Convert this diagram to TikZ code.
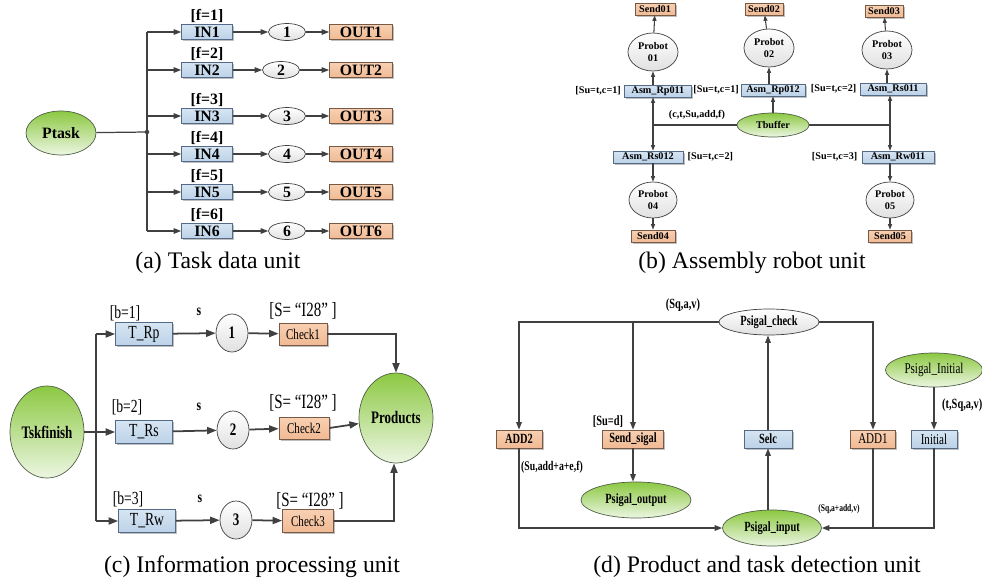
\documentclass[tikz,border=0pt]{standalone}
\usepackage{fontspec}
\setmainfont{Liberation Serif}
\newfontfamily\narrowfont[FakeStretch=0.74]{Liberation Serif}
\usetikzlibrary{shapes.geometric,arrows.meta,shadows}

\definecolor{linegray}{RGB}{64,64,64}
\definecolor{bluetop}{RGB}{214,229,242}
\definecolor{bluebot}{RGB}{188,210,232}
\definecolor{blueline}{RGB}{84,106,134}
\definecolor{orangetop}{RGB}{248,208,178}
\definecolor{orangebot}{RGB}{240,186,148}
\definecolor{orangeline}{RGB}{118,90,70}
\definecolor{greentop}{RGB}{140,200,66}
\definecolor{greenbot}{RGB}{236,246,226}
\definecolor{greenline}{RGB}{80,96,70}

\tikzset{
  boxshadow/.style={drop shadow={shadow xshift=0.35mm,shadow yshift=-0.35mm,fill=black,opacity=0.25}},
  inbox/.style={rectangle,draw=blueline,top color=bluetop,bottom color=bluebot,inner sep=0pt,boxshadow},
  outbox/.style={rectangle,draw=orangeline,top color=orangetop,bottom color=orangebot,inner sep=0pt,boxshadow},
  greenell/.style={ellipse,draw=greenline,top color=greentop,bottom color=greenbot,inner sep=0pt},
  whiteell/.style={ellipse,draw=linegray,top color=white,bottom color=black!12,inner sep=0pt},
  conn/.style={draw=linegray,line width=0.7pt,-{Triangle[length=1.5mm,width=1.1mm]}},
  thinconn/.style={draw=linegray,line width=0.6pt,-{Triangle[length=1.1mm,width=0.8mm]}},
  thickconn/.style={draw=linegray,line width=1pt,-{Triangle[length=1.9mm,width=1.4mm]}},
  wire/.style={draw=linegray,line width=0.7pt},
  caption/.style={font=\fontsize{13.5}{15}\selectfont},
  fa/.style={font=\fontsize{9}{10}\selectfont\bfseries},
  fb/.style={font=\fontsize{5.8}{6.6}\selectfont\bfseries,align=center},
  fc/.style={font=\narrowfont\fontsize{10}{11}\selectfont\bfseries},
  fcr/.style={font=\narrowfont\fontsize{10.5}{11}\selectfont},
  fd/.style={font=\narrowfont\fontsize{8}{9}\selectfont\bfseries},
  fdr/.style={font=\narrowfont\fontsize{8.5}{9}\selectfont}
}

\begin{document}
\begin{tikzpicture}[x=0.2mm,y=-0.2mm]
\useasboundingbox (0,0) rectangle (982,585);

% (a) task data unit
\node[greenell,fa,minimum width=14mm,minimum height=8.8mm] (ptask) at (61,133) {Ptask};
\coordinate (jA) at (147,132);
\foreach \n/\cx in {1/287,2/281,3/287,4/287,5/287,6/287} {
  \pgfmathsetmacro{\yy}{\n==1 ? 32 : (\n==2 ? 70 : (\n==3 ? 116 : (\n==4 ? 154 : (\n==5 ? 192 : 231))))}
  \node[inbox,fa,minimum width=10.2mm,minimum height=3mm] (in\n) at (207,\yy) {IN\n};
  \node[fa,anchor=south,inner sep=0.5pt] (fl\n) at (in\n.north) {[f=\n]};
  \node[whiteell,fa,minimum width=7.4mm,minimum height=3.4mm] (cn\n) at (\cx,\yy) {\n};
  \node[outbox,fa,minimum width=12.6mm,minimum height=3mm] (out\n) at (361,\yy) {OUT\n};
  \draw[conn] (jA |- in\n) -- (in\n);
  \draw[conn] (in\n) -- (cn\n);
  \draw[conn] (cn\n) -- (out\n);
}
\draw[wire] (jA |- in1) -- (jA |- in6);
\draw[wire] (ptask) -- (jA);
\fill[linegray] (jA) circle[radius=0.45mm];
\node[caption] (capa) at (218,263) {(a) Task data unit};

% (b) assembly robot unit
\node[outbox,fb,minimum width=8mm,minimum height=2.4mm] (send01) at (655,9) {Send01};
\node[outbox,fb,minimum width=7.6mm,minimum height=2.4mm] (send02) at (764,9) {Send02};
\node[outbox,fb,minimum width=7.6mm,minimum height=2.4mm] (send03) at (884,11) {Send03};
\node[whiteell,fb,minimum width=10mm,minimum height=7.6mm] (probot01) at (653,52) {Probot\\01};
\node[whiteell,fb,minimum width=10mm,minimum height=7.6mm] (probot02) at (769,48) {Probot\\02};
\node[whiteell,fb,minimum width=10mm,minimum height=7.6mm] (probot03) at (887,50) {Probot\\03};
\node[inbox,fb,minimum width=13.4mm,minimum height=2.4mm] (asm01) at (658,91) {Asm\_Rp011};
\node[inbox,fb,minimum width=12.8mm,minimum height=2.4mm] (asm02) at (773,90) {Asm\_Rp012};
\node[inbox,fb,minimum width=13.2mm,minimum height=2.4mm] (asm03) at (893,89) {Asm\_Rs011};
\node[greenell,fb,minimum width=14.4mm,minimum height=4.8mm] (tbuffer) at (773,125) {Tbuffer};
\node[inbox,fb,minimum width=14mm,minimum height=2.4mm] (asm04) at (648,157) {Asm\_Rs012};
\node[inbox,fb,minimum width=14.4mm,minimum height=2.4mm] (asm05) at (898,157) {Asm\_Rw011};
\node[whiteell,fb,minimum width=9.6mm,minimum height=7.2mm] (probot04) at (653,200) {Probot\\04};
\node[whiteell,fb,minimum width=9.6mm,minimum height=7.2mm] (probot05) at (890,200) {Probot\\05};
\node[outbox,fb,minimum width=8.8mm,minimum height=2.4mm] (send04) at (653,236) {Send04};
\node[outbox,fb,minimum width=8.6mm,minimum height=2.4mm] (send05) at (890,236) {Send05};
\node[fb,anchor=east,inner sep=0.6mm] (g01) at (asm01.west) {[Su=t,c=1]};
\node[fb,anchor=east,inner sep=0.3mm] (g02) at (asm02.west) {[Su=t,c=1]};
\node[fb,anchor=east,inner sep=0.6mm] (g03) at (asm03.west) {[Su=t,c=2]};
\node[fb,anchor=west,inner sep=0.8mm] (g04) at (asm04.east) {[Su=t,c=2]};
\node[fb,anchor=east,inner sep=0.8mm] (g05) at (asm05.west) {[Su=t,c=3]};
\node[fb] (tokb) at (697,115) {(c,t,Su,add,f)};
\coordinate (jL) at (653,125);
\coordinate (jR) at (890,125);
\draw[wire,line width=0.6pt] (jL) -- (tbuffer) -- (jR);
\draw[thinconn] (jL) -- (jL |- asm01.south);
\draw[thinconn] (tbuffer) -- (asm02);
\draw[thinconn] (jR) -- (jR |- asm03.south);
\draw[thinconn] (jL) -- (jL |- asm04.north);
\draw[thinconn] (jR) -- (jR |- asm05.north);
\foreach \k in {01,02,03} {
  \draw[thinconn] (probot\k.south |- asm\k.north) -- (probot\k.south);
  \draw[thinconn] (probot\k) -- (send\k);
}
\draw[thinconn] (probot04.north |- asm04.south) -- (probot04.north);
\draw[thinconn] (probot04) -- (send04);
\draw[thinconn] (probot05.north |- asm05.south) -- (probot05.north);
\draw[thinconn] (probot05) -- (send05);
\node[caption] (capb) at (752,263) {(b) Assembly robot unit};

% (c) information processing unit
\node[greenell,fc,minimum width=14.8mm,minimum height=18.4mm] (tskfinish) at (47,432) {Tskfinish};
\node[greenell,fc,minimum width=14.8mm,minimum height=18mm] (products) at (396,418) {Products};
\node[inbox,fcr,minimum width=11.4mm,minimum height=4.6mm] (trp) at (144,334) {T\_Rp};
\node[inbox,fcr,minimum width=11.4mm,minimum height=4.6mm] (trs) at (144,432) {T\_Rs};
\node[inbox,fcr,minimum width=11.4mm,minimum height=4.6mm] (trw) at (147,521) {T\_Rw};
\node[whiteell,fc,minimum width=6.4mm,minimum height=7.6mm] (pc1) at (232,333) {1};
\node[whiteell,fc,minimum width=6.4mm,minimum height=7.6mm] (pc2) at (233,430) {2};
\node[whiteell,fc,minimum width=6.4mm,minimum height=7.6mm] (pc3) at (236,520) {3};
\node[outbox,font=\narrowfont\fontsize{8.5}{9}\selectfont,minimum width=9.6mm,minimum height=4.4mm] (check1) at (303,334) {Check1};
\node[outbox,font=\narrowfont\fontsize{8.5}{9}\selectfont,minimum width=10mm,minimum height=4.4mm] (check2) at (304,428) {Check2};
\node[outbox,font=\narrowfont\fontsize{8.5}{9}\selectfont,minimum width=10.2mm,minimum height=4.6mm] (check3) at (308,521) {Check3};
\node[fcr] (bl1) at (125,313) {[b=1]};
\node[fcr] (bl2) at (127,407) {[b=2]};
\node[fcr] (bl3) at (128,499) {[b=3]};
\node[fc,font=\narrowfont\fontsize{9}{10}\selectfont\bfseries] (s1) at (199,312) {s};
\node[fc,font=\narrowfont\fontsize{9}{10}\selectfont\bfseries] (s2) at (199,407) {s};
\node[fc,font=\narrowfont\fontsize{9}{10}\selectfont\bfseries] (s3) at (200,499) {s};
\node[font=\narrowfont\fontsize{11.5}{12}\selectfont] (sl1) at (303,311) {[S= “I28” ]};
\node[font=\narrowfont\fontsize{11.5}{12}\selectfont] (sl2) at (303,403) {[S= “I28” ]};
\node[font=\narrowfont\fontsize{11.5}{12}\selectfont] (sl3) at (310,501) {[S= “I28” ]};
\coordinate (jC) at (96,432);
\draw[wire,line width=1pt] (jC |- trp) -- (jC |- trw);
\draw[thickconn] (tskfinish) -- (trs);
\draw[thickconn] (jC |- trp) -- (trp);
\draw[thickconn] (jC |- trw) -- (trw);
\foreach \a/\b/\c in {trp/pc1/check1,trs/pc2/check2,trw/pc3/check3} {
  \draw[thickconn] (\a) -- (\b);
  \draw[thickconn] (\b) -- (\c);
}
\draw[thickconn] (check1.east) -| (products.north);
\draw[thickconn] (check2.east) -- (products);
\draw[thickconn] (check3.east) -| ([xshift=-0.4mm]products.south);
\node[caption] (capc) at (252,567) {(c) Information processing unit};

% (d) product and task detection unit
\node[whiteell,fd,minimum width=20mm,minimum height=5.2mm] (pcheck) at (769,322) {Psigal\_check};
\node[greenell,fdr,minimum width=19.4mm,minimum height=6.8mm] (pinit) at (934,370) {Psigal\_Initial};
\node[outbox,fd,minimum width=9.2mm,minimum height=3.6mm] (add2) at (519,439) {ADD2};
\node[outbox,fd,minimum width=12.2mm,minimum height=3.6mm] (sendsig) at (633,439) {Send\_sigal};
\node[inbox,fd,minimum width=9.6mm,minimum height=3.6mm] (selc) at (768,439) {Selc};
\node[outbox,fdr,minimum width=9mm,minimum height=3.6mm] (add1) at (873,439) {ADD1};
\node[inbox,fdr,minimum width=9.2mm,minimum height=3.6mm] (initial) at (934,439) {Initial};
\node[greenell,fd,minimum width=22mm,minimum height=7.2mm] (pout) at (636,500) {Psigal\_output};
\node[greenell,fd,minimum width=19.8mm,minimum height=7.2mm] (pin) at (772,528) {Psigal\_input};
\node[font=\narrowfont\fontsize{8}{9}\selectfont\bfseries] (tsqav) at (683,305) {(Sq,a,v)};
\node[fd] (sud) at (608,422) {[Su=d]};
\node[font=\narrowfont\fontsize{8}{9}\selectfont\bfseries,anchor=west] (tinit) at (936,405) {(t,Sq,a,v)};
\node[font=\narrowfont\fontsize{7.5}{8}\selectfont\bfseries] (tsu) at (552,467) {(Su,add+a+e,f)};
\node[font=\narrowfont\fontsize{5.8}{6}\selectfont\bfseries] (tsqadd) at (839,509) {(Sq,a+add,v)};
\draw[conn,line width=0.8pt] (pcheck.west) -| (add2.north);
\draw[conn,line width=0.8pt] (sendsig.north |- pcheck.west) -- (sendsig.north);
\draw[wire,line width=1.6pt] (sendsig.north |- pcheck.west) -- (pcheck.west);
\draw[conn,line width=0.8pt] (pcheck.east) -| (add1.north);
\draw[conn,line width=0.8pt] (selc.north) -- (selc.north |- pcheck.south);
\draw[conn,line width=0.8pt] (pinit.south) -- (initial.north);
\draw[conn,line width=0.8pt] (sendsig.south) -- (sendsig.south |- pout.north);
\draw[conn,line width=0.8pt] (add2.south) |- (pin.west);
\draw[conn,line width=0.8pt] (selc.south |- pin.north) -- (selc.south);
\draw[wire,line width=0.8pt] (initial.south) |- (add1.south |- pin.east);
\draw[conn,line width=0.8pt] (add1.south) |- (pin.east);
\node[caption] (capd) at (757,567) {(d) Product and task detection unit};
\end{tikzpicture}
\end{document}
